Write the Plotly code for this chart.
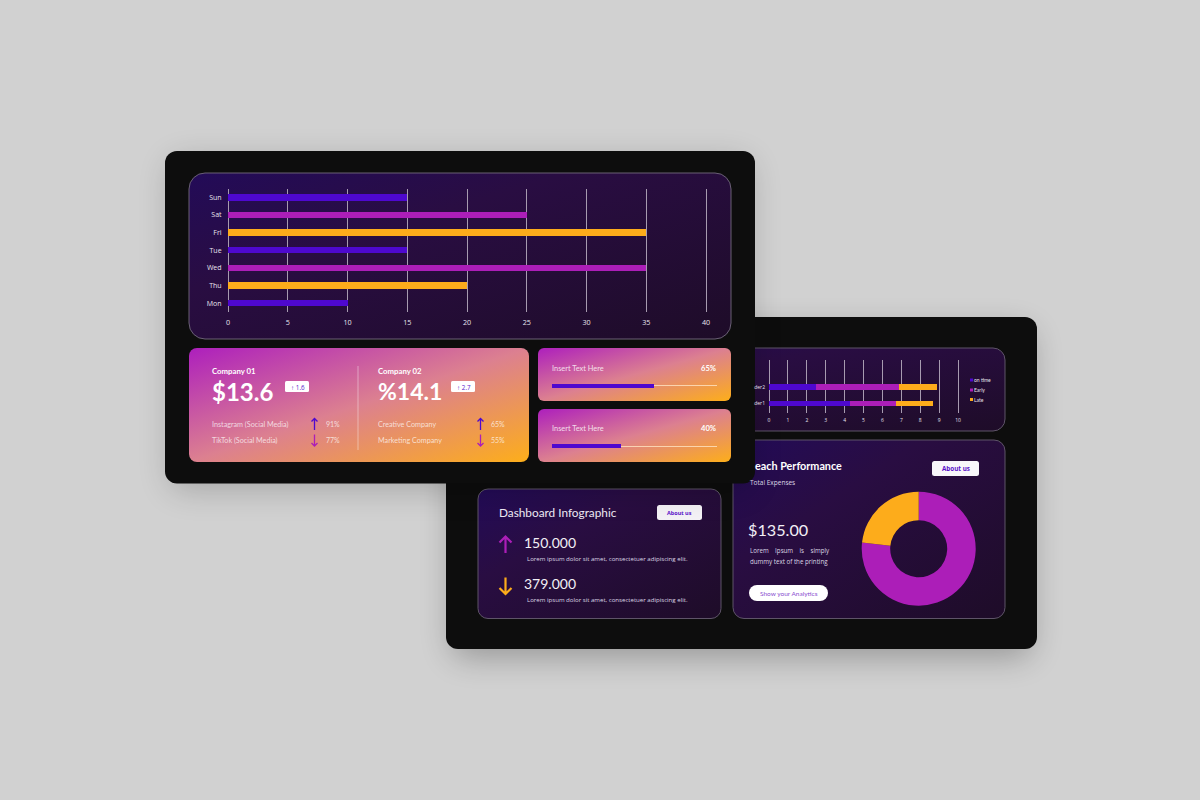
#!/usr/bin/python3
#
# Two overlapping dashboard cards drawn on one page. The cards and panels are
# an svg backdrop, the charts sit on top on their own axes.
#

import base64
import plotly.graph_objects as go

W = 1200
H = 800

INDIGO = '#4e08cf'
MAGENTA = '#ac1eb8'
AMBER = '#fdac1b'
SANS = 'Open Sans'
HEAD = 'Lato'

# Top chart
days = ['Mon', 'Thu', 'Wed', 'Tue', 'Fri', 'Sat', 'Sun']
day_values = [10, 20, 35, 15, 35, 25, 15]
day_colors = [INDIGO, AMBER, MAGENTA, INDIGO, AMBER, MAGENTA, INDIGO]
day_ticks = [0, 5, 10, 15, 20, 25, 30, 35, 40]

# Stacked chart, the labels are cut off by the top card
orders = ['der1', 'der2']
on_time = [4.3, 2.5]
early = [2.4, 4.4]
late = [2.0, 2.0]
order_ticks = [0, 1, 2, 3, 4, 5, 6, 7, 8, 9, 10]
legend_names = ['on time', 'Early', 'Late']

# Progress bars
progress_labels = ['65%', '40%']
progress_values = [62, 42]

# Donut
donut_labels = ['Early', 'Late']
donut_values = [76.7, 23.3]


def rounded(x0, y0, x1, y1, r, fill, stroke='none', extra=''):
    return ('<rect x="%s" y="%s" width="%s" height="%s" rx="%s" fill="%s" stroke="%s" %s/>'
            % (x0, y0, x1 - x0, y1 - y0, r, fill, stroke, extra))


svg = f'''<svg xmlns="http://www.w3.org/2000/svg" width="{W}" height="{H}" viewBox="0 0 {W} {H}">
<defs>
<filter id="soft" x="-20%" y="-20%" width="140%" height="140%"><feGaussianBlur stdDeviation="16"/></filter>
<linearGradient id="dark" x1="0" y1="0" x2="1" y2="1">
<stop offset="0" stop-color="#230b58"/><stop offset="0.35" stop-color="#290d42"/><stop offset="1" stop-color="#1e0c28"/>
</linearGradient>
<linearGradient id="warm" x1="0" y1="0" x2="1" y2="1">
<stop offset="0" stop-color="#ad1fbd"/><stop offset="0.5" stop-color="#dc8090"/><stop offset="1" stop-color="#fdae1a"/>
</linearGradient>
</defs>
<rect width="{W}" height="{H}" fill="#d1d1d1"/>
'''
svg += rounded(452, 330, 1031, 657, 12, '#000000', extra='opacity="0.28" filter="url(#soft)"')
svg += rounded(446, 317, 1037, 649, 12, '#0d0d0d')
svg += rounded(478, 348, 1005, 431, 12, 'url(#dark)', '#5e5468')
svg += rounded(733, 440, 1005, 618.5, 11, 'url(#dark)', '#5e5468')
svg += rounded(478, 489, 721, 618.5, 10, 'url(#dark)', '#5e5468')
svg += rounded(657, 505, 702, 520, 2.5, '#f4f2f6')
svg += rounded(932, 461, 979, 476, 2.5, '#f8f7fa')
svg += rounded(749, 585, 828, 601, 8, '#ffffff')
svg += rounded(170, 160, 750, 490, 12, '#000000', extra='opacity="0.2" filter="url(#soft)"')
svg += rounded(165, 151, 755, 483.5, 12, '#0d0d0d')
svg += rounded(189, 173, 731, 339, 16, 'url(#dark)', '#6a6075')
svg += rounded(189, 348, 529, 462, 8, 'url(#warm)')
svg += rounded(538, 348, 731, 401, 6, 'url(#warm)')
svg += rounded(538, 409, 731, 462, 6, 'url(#warm)')
svg += rounded(285, 381, 309, 392, 1.5, '#ffffff')
svg += rounded(451, 381, 475, 392, 1.5, '#ffffff')
svg += '<line x1="358" y1="366" x2="358" y2="450" stroke="#ffffff" stroke-opacity="0.4"/>'
svg += '</svg>'
backdrop = 'data:image/svg+xml;base64,' + base64.b64encode(svg.encode()).decode()


def dom_x(a, b):
    return [a / W, b / W]


def dom_y(top, bottom):
    return [1 - bottom / H, 1 - top / H]


def txt(x, y, s, size, color='#ffffff', family=SANS, anchor='left'):
    if anchor == 'left':
        x = x - 1  # annotations keep about a pixel of padding
    return dict(x=x / W, y=1 - y / H, xref='paper', yref='paper', text=s, showarrow=False,
                xanchor=anchor, yanchor='middle', align=anchor, borderpad=0,
                font=dict(size=size, color=color, family=family))


def arrow(x, top, bottom, color, up, width=1.3, head=3):
    # an open arrow as a path, given in page pixels
    def p(px, py):
        return '%.5f,%.5f' % (px / W, 1 - py / H)
    if up:
        tip, wing = top, top + head
    else:
        tip, wing = bottom, bottom - head
    path = ('M' + p(x, top) + ' L' + p(x, bottom) + ' M' + p(x - head, wing) +
            ' L' + p(x, tip) + ' L' + p(x + head, wing))
    return dict(type='path', path=path, xref='paper', yref='paper', layer='above',
                line=dict(color=color, width=width))


fig = go.Figure()

# top chart
fig.add_trace(go.Bar(x=day_values, y=days, orientation='h', width=0.36,
                     marker=dict(color=day_colors, line=dict(width=0)),
                     xaxis='x', yaxis='y'))

# stacked chart
for name, vals, col in zip(legend_names, [on_time, early, late], [INDIGO, MAGENTA, AMBER]):
    fig.add_trace(go.Bar(x=vals, y=orders, orientation='h', width=0.36, name=name,
                         marker=dict(color=col, line=dict(width=0)),
                         xaxis='x2', yaxis='y2'))

# progress bars, the rest of the track is a thinner bar stacked on the end
for i, v in enumerate(progress_values):
    xa = 'x%d' % (i + 3)
    ya = 'y%d' % (i + 3)
    fig.add_trace(go.Bar(x=[v], y=[0], orientation='h', width=0.8,
                         marker=dict(color=INDIGO, line=dict(width=0)), xaxis=xa, yaxis=ya))
    fig.add_trace(go.Bar(x=[100 - v], y=[0], orientation='h', width=0.26,
                         marker=dict(color='rgba(255,228,195,0.8)', line=dict(width=0)),
                         xaxis=xa, yaxis=ya))

# donut
fig.add_trace(go.Pie(labels=donut_labels, values=donut_values, hole=0.5, sort=False,
                     direction='clockwise', rotation=0, textinfo='none',
                     marker=dict(colors=[MAGENTA, AMBER], line=dict(width=0)),
                     domain=dict(x=dom_x(861.7, 975.7), y=dom_y(491.7, 605.7))))

grid = '#a79bb0'
hidden = dict(visible=False, fixedrange=True)
soft = 'rgba(255,255,255,0.72)'

notes = [
    txt(212, 370.5, '<b>Company 01</b>', 7.8, family=HEAD),
    txt(212, 391, '<b>$13.6</b>', 24, family=HEAD),
    txt(291, 387, '<b>↑</b> 1.6', 6.3, '#5a1ccc'),
    txt(212, 424, 'Instagram (Social Media)', 7.2, soft, HEAD),
    txt(212, 440, 'TikTok (Social Media)', 7.2, soft, HEAD),
    txt(326, 424, '91%', 7, soft, HEAD),
    txt(326, 440, '77%', 7, soft, HEAD),
    txt(378, 370.5, '<b>Company 02</b>', 7.8, family=HEAD),
    txt(378, 391, '<b>%14.1</b>', 23, family=HEAD),
    txt(457, 387, '<b>↑</b> 2.7', 6.3, '#5a1ccc'),
    txt(378, 424, 'Creative Company', 7.2, soft, HEAD),
    txt(378, 440, 'Marketing Company', 7.2, soft, HEAD),
    txt(491, 424, '65%', 7, soft, HEAD),
    txt(491, 440, '55%', 7, soft, HEAD),
    txt(552, 368, 'Insert Text Here', 7.4, 'rgba(255,255,255,0.8)', HEAD),
    txt(552, 428, 'Insert Text Here', 7.4, 'rgba(255,255,255,0.8)', HEAD),
    txt(717, 368, '<b>' + progress_labels[0] + '</b>', 7.6, family=HEAD, anchor='right'),
    txt(717, 428, '<b>' + progress_labels[1] + '</b>', 7.6, family=HEAD, anchor='right'),
    txt(499, 512, 'Dashboard Infographic', 11.8, '#ece8f2', HEAD),
    txt(679.5, 512.5, '<b>About us</b>', 5.5, '#5a10c8', anchor='center'),
    txt(524, 542, '150.000', 14, '#f2eff6', HEAD),
    txt(527, 558, 'Lorem ipsum dolor sit amet, consectetuer adipiscing elit.', 6.1, '#dcd6e4'),
    txt(524, 583, '379.000', 14, '#f2eff6', HEAD),
    txt(527, 599, 'Lorem ipsum dolor sit amet, consectetuer adipiscing elit.', 6.1, '#dcd6e4'),
    txt(755, 465.5, '<b>each Performance</b>', 10.8, family=HEAD),
    txt(750, 482.5, 'Total Expenses', 6.5, '#dcd6e4'),
    txt(955.5, 468.5, '<b>About us</b>', 6.3, '#5a10c8', anchor='center'),
    txt(748, 529, '$135.00', 16.2, '#f2eff6', HEAD),
    txt(750, 550, 'Lorem&nbsp;&nbsp;&nbsp;&nbsp;Ipsum&nbsp;&nbsp;&nbsp;&nbsp;is&nbsp;&nbsp;&nbsp;&nbsp;simply', 6.2, '#dcd6e4'),
    txt(750, 561, 'dummy text of the printing', 6.2, '#dcd6e4'),
    txt(788.5, 593, 'Show your Analytics', 6.5, '#8a4fd0', HEAD, 'center'),
]

# legend of the stacked chart, small swatches beside the names
swatches = []
for name, col, y in zip(legend_names, [INDIGO, MAGENTA, AMBER], [380, 390, 399.5]):
    notes.append(txt(974, y, name, 5, '#e8e4ee', HEAD))
    swatches.append(dict(type='rect', xref='paper', yref='paper', layer='above',
                         x0=970 / W, x1=973 / W, y0=1 - (y + 1.5) / H, y1=1 - (y - 1.5) / H,
                         fillcolor=col, line=dict(width=0)))

shapes = swatches + [
    arrow(314.5, 418.5, 430, INDIGO, True),
    arrow(314.5, 434.5, 446, MAGENTA, False),
    arrow(480.5, 418.5, 430, INDIGO, True),
    arrow(480.5, 434.5, 446, MAGENTA, False),
    arrow(505.5, 536.5, 553, MAGENTA, True, 2.2, 6),
    arrow(505.5, 577.5, 594, AMBER, False, 2.2, 6),
]

fig.update_layout(
    template='none',
    width=W, height=H,
    margin=dict(l=0, r=0, t=0, b=0),
    paper_bgcolor='#d1d1d1', plot_bgcolor='rgba(0,0,0,0)',
    barmode='stack', showlegend=False,
    images=[dict(source=backdrop, xref='paper', yref='paper', x=0, y=1, sizex=1, sizey=1,
                 xanchor='left', yanchor='top', sizing='stretch', layer='below')],
    annotations=notes,
    shapes=shapes,
    # ranges run a touch past the last tick so plotly keeps the end gridline
    xaxis=dict(domain=dom_x(228, 707.2), range=[0, 40.1], tickvals=day_ticks, showgrid=True,
               gridcolor=grid, gridwidth=1, zeroline=True, zerolinecolor=grid, zerolinewidth=1,
               showline=False, ticks='outside', ticklen=3, tickcolor='rgba(0,0,0,0)',
               tickfont=dict(size=7.2, color='#e8e4ee', family=SANS), anchor='y', fixedrange=True),
    yaxis=dict(domain=dom_y(188.5, 312), range=[-0.5, 6.5], type='category',
               categoryorder='array', categoryarray=days, showgrid=False, zeroline=False,
               showline=False, ticks='outside', ticklen=4, tickcolor='rgba(0,0,0,0)',
               tickfont=dict(size=7, color='#e8e4ee', family=SANS), anchor='x', fixedrange=True),
    xaxis2=dict(domain=dom_x(769, 959.9), range=[0, 10.1], tickvals=order_ticks, showgrid=True,
                gridcolor=grid, gridwidth=1, zeroline=True, zerolinecolor=grid, zerolinewidth=1,
                showline=False, ticks='outside', ticklen=2, tickcolor='rgba(0,0,0,0)',
                tickfont=dict(size=5, color='#e8e4ee', family=SANS), anchor='y2', fixedrange=True),
    yaxis2=dict(domain=dom_y(360, 413), range=[-0.576, 2.64], type='category',
                categoryorder='array', categoryarray=orders, showgrid=False, zeroline=False,
                showline=False, ticks='outside', ticklen=2, tickcolor='rgba(0,0,0,0)',
                tickfont=dict(size=5, color='#e8e4ee', family=SANS), anchor='x2', fixedrange=True),
    xaxis3=dict(domain=dom_x(552, 717), range=[0, 100], anchor='y3', **hidden),
    yaxis3=dict(domain=dom_y(383, 388.5), range=[-0.5, 0.5], anchor='x3', **hidden),
    xaxis4=dict(domain=dom_x(552, 717), range=[0, 100], anchor='y4', **hidden),
    yaxis4=dict(domain=dom_y(443.5, 449), range=[-0.5, 0.5], anchor='x4', **hidden),
)

fig.write_html('out.html', config=dict(displayModeBar=False),
               post_script="document.body.style.margin='0';")
